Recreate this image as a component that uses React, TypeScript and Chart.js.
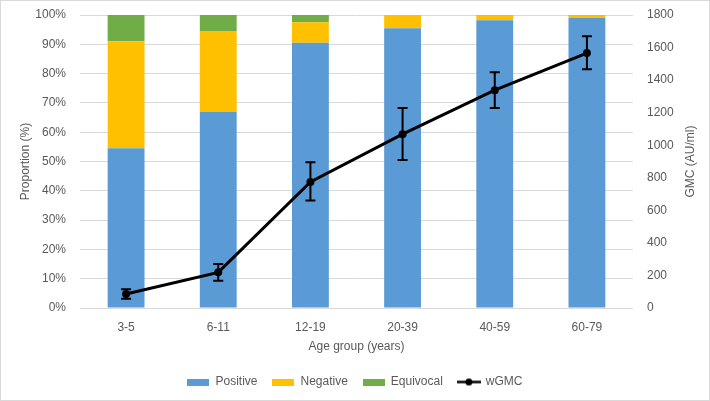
import React, { useEffect, useRef } from "react";
import { Chart, registerables } from "chart.js";

Chart.register(...registerables);

const categories = ["3-5", "6-11", "12-19", "20-39", "40-59", "60-79"];
const positive = [54.5, 67, 90.5, 95.5, 98.2, 99];
const negative = [36.5, 27.5, 7, 4.5, 1.6, 0.8];
const equivocal = [9, 5.5, 2.5, 0, 0.2, 0.2];
const gmc = [86, 219, 774, 1068, 1338, 1566];
const gmcLow = [57, 168, 660, 909, 1228, 1467];
const gmcHigh = [115, 270, 896, 1228, 1449, 1670];
const seriesNames = ["Positive", "Negative", "Equivocal", "wGMC"];
const colors = ["#5b9bd5", "#ffc000", "#70ad47", "#000000"];
const FONT = "'Liberation Sans', Arial, sans-serif";
const TEXT = "#595959";

function makeSwatch(color: string, isLine: boolean) {
  const c = document.createElement("canvas");
  c.width = isLine ? 24 : 22;
  c.height = isLine ? 9 : 7;
  const ctx = c.getContext("2d")!;
  if (isLine) {
    ctx.strokeStyle = color;
    ctx.lineWidth = 2.5;
    ctx.beginPath();
    ctx.moveTo(0, 4.5);
    ctx.lineTo(24, 4.5);
    ctx.stroke();
    ctx.fillStyle = color;
    ctx.beginPath();
    ctx.arc(12, 4.5, 3.5, 0, Math.PI * 2);
    ctx.fill();
  } else {
    ctx.fillStyle = color;
    ctx.fillRect(0, 0, 22, 7);
  }
  return c;
}

const extrasPlugin = {
  id: "extras",
  beforeDraw(chart: any) {
    const ctx = chart.ctx;
    ctx.save();
    ctx.strokeStyle = "#d9d9d9";
    ctx.lineWidth = 1;
    ctx.strokeRect(0.5, 0.5, chart.width - 1, chart.height - 1);
    ctx.restore();
  },
  afterDatasetsDraw(chart: any) {
    const ctx = chart.ctx;
    const meta = chart.getDatasetMeta(3);
    const y1 = chart.scales.y1;
    ctx.save();
    ctx.strokeStyle = "#000";
    ctx.lineWidth = 2;
    meta.data.forEach((pt: any, i: number) => {
      const x = pt.x;
      const yl = y1.getPixelForValue(gmcLow[i]);
      const yh = y1.getPixelForValue(gmcHigh[i]);
      ctx.beginPath();
      ctx.moveTo(x, yl);
      ctx.lineTo(x, yh);
      ctx.moveTo(x - 5, yl);
      ctx.lineTo(x + 5, yl);
      ctx.moveTo(x - 5, yh);
      ctx.lineTo(x + 5, yh);
      ctx.stroke();
    });
    ctx.restore();
  },
  afterDraw(chart: any) {
    const ctx = chart.ctx;
    const area = chart.chartArea;
    ctx.save();
    ctx.fillStyle = TEXT;
    ctx.font = `12px ${FONT}`;
    ctx.textAlign = "center";
    ctx.textBaseline = "middle";
    ctx.translate(691, (area.top + area.bottom) / 2);
    ctx.rotate(-Math.PI / 2);
    ctx.fillText("GMC (AU/ml)", 0, 0);
    ctx.restore();
  },
};

export default function App() {
  const ref = useRef<HTMLCanvasElement>(null);
  useEffect(() => {
    if (!ref.current) return;
    const chart = new Chart(ref.current, {
      type: "bar",
      data: {
        labels: categories,
        datasets: [
          { type: "bar", label: seriesNames[0], data: positive, backgroundColor: colors[0], yAxisID: "y", order: 1, barPercentage: 0.4, categoryPercentage: 1 },
          { type: "bar", label: seriesNames[1], data: negative, backgroundColor: colors[1], yAxisID: "y", order: 1, barPercentage: 0.4, categoryPercentage: 1 },
          { type: "bar", label: seriesNames[2], data: equivocal, backgroundColor: colors[2], yAxisID: "y", order: 1, barPercentage: 0.4, categoryPercentage: 1 },
          {
            type: "line",
            label: seriesNames[3],
            data: gmc,
            borderColor: colors[3],
            backgroundColor: colors[3],
            borderWidth: 3,
            pointRadius: 4,
            pointBackgroundColor: colors[3],
            pointBorderWidth: 0,
            yAxisID: "y1",
            order: 0,
            tension: 0,
          } as any,
        ],
      },
      options: {
        responsive: false,
        animation: false,
        layout: { padding: { top: 15, bottom: 3, left: 0, right: 0 } },
        plugins: {
          tooltip: { enabled: false },
          legend: {
            position: "bottom",
            labels: {
              usePointStyle: true,
              pointStyleWidth: 22,
              boxHeight: 7,
              padding: 15,
              color: TEXT,
              font: { family: FONT, size: 12 },
              generateLabels: () =>
                seriesNames.map((name, i) => ({
                  text: name,
                  fillStyle: colors[i],
                  strokeStyle: colors[i],
                  lineWidth: 0,
                  hidden: false,
                  datasetIndex: i,
                  fontColor: TEXT,
                  pointStyle: makeSwatch(colors[i], i === 3),
                })),
            },
          },
        },
        scales: {
          x: {
            stacked: true,
            grid: { display: false, drawTicks: false },
            border: { display: false },
            ticks: { color: TEXT, font: { family: FONT, size: 12 }, padding: 12 },
            title: { display: true, text: "Age group (years)", color: TEXT, font: { family: FONT, size: 12 }, padding: { top: 0, bottom: 7 } },
            afterFit: (s: any) => { s.height = 53; },
          },
          y: {
            stacked: true,
            min: 0,
            max: 100,
            ticks: { stepSize: 10, color: TEXT, font: { family: FONT, size: 12 }, padding: 0, callback: (v: any) => v + "%" },
            grid: { color: "#d9d9d9", drawTicks: true, tickLength: 14, tickColor: "rgba(0,0,0,0)" },
            border: { display: false },
            title: { display: true, text: "Proportion (%)", color: TEXT, font: { family: FONT, size: 12 }, padding: { top: 18, bottom: 0 } },
            afterFit: (s: any) => { s.width = 80; },
          },
          y1: {
            position: "right",
            min: 0,
            max: 1800,
            ticks: { stepSize: 200, color: TEXT, font: { family: FONT, size: 12 }, padding: 0, callback: (v: any) => String(v) },
            grid: { display: true, drawOnChartArea: false, drawTicks: true, tickLength: 14, tickColor: "rgba(0,0,0,0)" },
            border: { display: false },
            afterFit: (s: any) => { s.width = 77; },
          },
        },
      },
      plugins: [extrasPlugin],
    });
    return () => chart.destroy();
  }, []);
  return (
    <div style={{ position: "absolute", left: 0, top: 0, width: 710, height: 401 }}>
      <canvas ref={ref} width={710} height={401} style={{ display: "block" }} />
    </div>
  );
}
